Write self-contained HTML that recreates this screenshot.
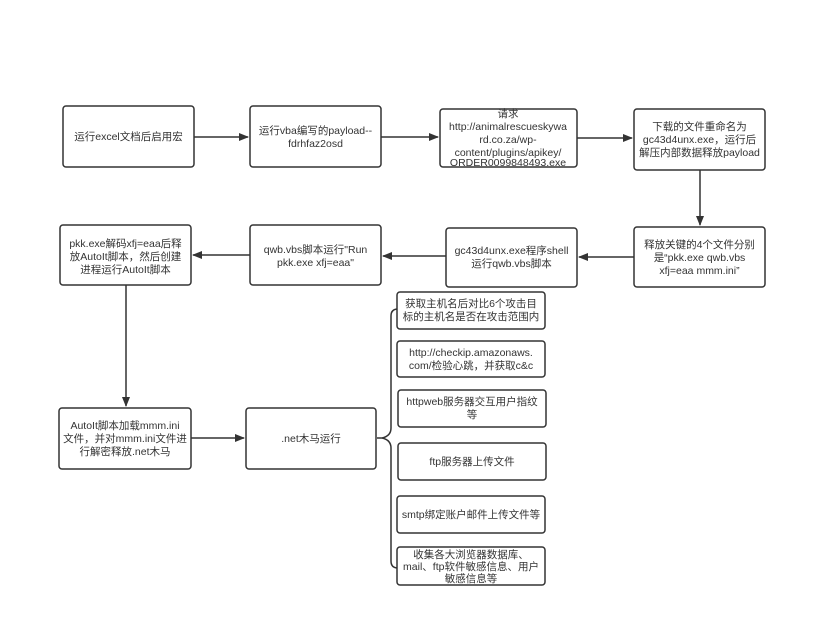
<!DOCTYPE html>
<html><head><meta charset="utf-8"><style>
html,body{margin:0;padding:0;background:#fff;}
svg{display:block;}
text{font-family:"Liberation Sans","Noto Sans CJK SC",sans-serif;font-size:10.5px;fill:#333;text-anchor:middle;}
rect{fill:#fff;stroke:#333;stroke-width:1.5;}
.l{stroke:#333;stroke-width:1.5;fill:none;}
</style></head><body>
<svg width="813" height="632" viewBox="0 0 813 632">
<defs><marker id="a" markerWidth="10" markerHeight="8" refX="9" refY="4" orient="auto" markerUnits="userSpaceOnUse"><path d="M0,0 L10,4 L0,8 z" fill="#333"/></marker></defs>
<!-- row1 -->
<rect x="63" y="106" width="131" height="61" rx="3"/>
<text x="128.5" y="140">运行excel文档后启用宏</text>
<rect x="250" y="106" width="131" height="61" rx="3"/>
<text x="315.5" y="134">运行vba编写的payload--</text>
<text x="315.5" y="147">fdrhfaz2osd</text>
<rect x="440" y="109" width="137" height="58" rx="3"/>
<text x="508" y="117">请求</text>
<text x="508" y="130">http://animalrescueskywa</text>
<text x="508" y="143">rd.co.za/wp-</text>
<text x="508" y="156">content/plugins/apikey/</text>
<text x="508" y="166">ORDER0099848493.exe</text>
<rect x="634" y="109" width="131" height="61" rx="3"/>
<text x="699.5" y="130">下载的文件重命名为</text>
<text x="699.5" y="143">gc43d4unx.exe，运行后</text>
<text x="699.5" y="156">解压内部数据释放payload</text>
<line class="l" x1="194" y1="137" x2="248" y2="137" marker-end="url(#a)"/>
<line class="l" x1="381" y1="137" x2="438" y2="137" marker-end="url(#a)"/>
<line class="l" x1="577" y1="138" x2="632" y2="138" marker-end="url(#a)"/>
<line class="l" x1="700" y1="170" x2="700" y2="225" marker-end="url(#a)"/>
<!-- row2 -->
<rect x="634" y="227" width="131" height="60" rx="3"/>
<text x="699.5" y="248">释放关键的4个文件分别</text>
<text x="699.5" y="261">是“pkk.exe qwb.vbs</text>
<text x="699.5" y="274">xfj=eaa  mmm.ini”</text>
<rect x="446" y="228" width="131" height="59" rx="3"/>
<text x="511.5" y="254">gc43d4unx.exe程序shell</text>
<text x="511.5" y="267">运行qwb.vbs脚本</text>
<rect x="250" y="225" width="131" height="60" rx="3"/>
<text x="315.5" y="253">qwb.vbs脚本运行"Run</text>
<text x="315.5" y="266">pkk.exe xfj=eaa"</text>
<rect x="60" y="225" width="131" height="60" rx="3"/>
<text x="125.5" y="247">pkk.exe解码xfj=eaa后释</text>
<text x="125.5" y="260">放AutoIt脚本，然后创建</text>
<text x="125.5" y="273">进程运行AutoIt脚本</text>
<line class="l" x1="634" y1="257" x2="579" y2="257" marker-end="url(#a)"/>
<line class="l" x1="446" y1="256" x2="383" y2="256" marker-end="url(#a)"/>
<line class="l" x1="250" y1="255" x2="193" y2="255" marker-end="url(#a)"/>
<line class="l" x1="126" y1="285" x2="126" y2="406" marker-end="url(#a)"/>
<!-- row3 -->
<rect x="59" y="408" width="132" height="61" rx="3"/>
<text x="125" y="429">AutoIt脚本加载mmm.ini</text>
<text x="125" y="442">文件，并对mmm.ini文件进</text>
<text x="125" y="455">行解密释放.net木马</text>
<rect x="246" y="408" width="130" height="61" rx="3"/>
<text x="311" y="442">.net木马运行</text>
<line class="l" x1="191" y1="438" x2="244" y2="438" marker-end="url(#a)"/>
<path class="l" d="M377,438 L382,438 Q391,436 391,428 L391,316 Q391,309 398,309 M382,438 Q391,440 391,448 L391,561 Q391,568 398,568"/>
<rect x="397" y="292" width="148" height="37" rx="3"/>
<text x="471" y="307">获取主机名后对比6个攻击目</text>
<text x="471" y="320">标的主机名是否在攻击范围内</text>
<rect x="397" y="341" width="148" height="36" rx="3"/>
<text x="471" y="356">http://checkip.amazonaws.</text>
<text x="471" y="369">com/检验心跳，并获取c&amp;c</text>
<rect x="398" y="390" width="148" height="37" rx="3"/>
<text x="472" y="405">httpweb服务器交互用户指纹</text>
<text x="472" y="418">等</text>
<rect x="398" y="443" width="148" height="37" rx="3"/>
<text x="472" y="465">ftp服务器上传文件</text>
<rect x="397" y="496" width="148" height="37" rx="3"/>
<text x="471" y="518">smtp绑定账户邮件上传文件等</text>
<rect x="397" y="547" width="148" height="38" rx="3"/>
<text x="471" y="558">收集各大浏览器数据库、</text>
<text x="471" y="570">mail、ftp软件敏感信息、用户</text>
<text x="471" y="582">敏感信息等</text>
</svg>
</body></html>
